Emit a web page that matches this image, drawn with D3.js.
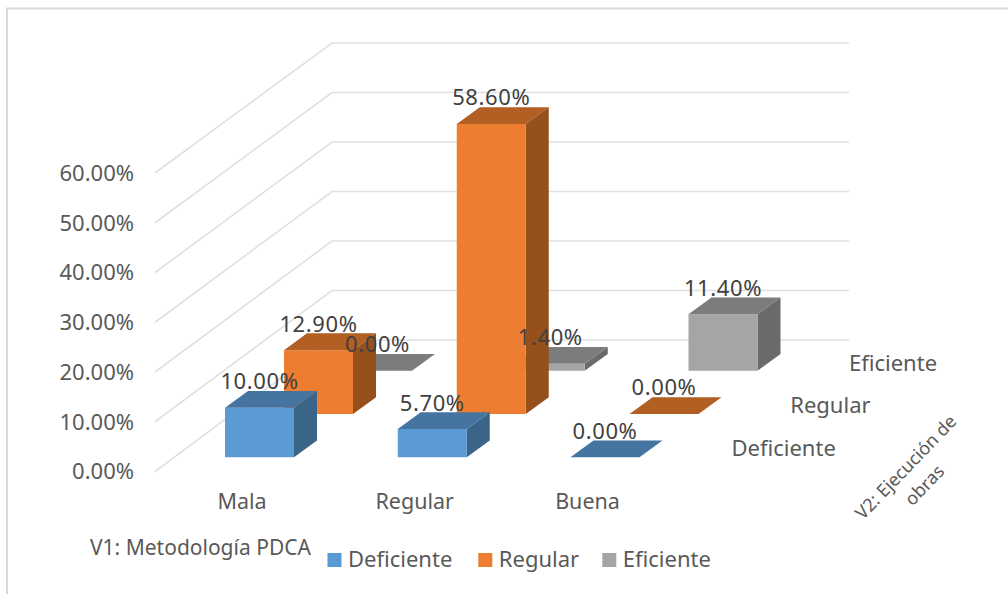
<!DOCTYPE html>
<html>
<head>
<meta charset="utf-8">
<script src="https://cdn.jsdelivr.net/npm/d3@7/dist/d3.min.js"></script>
<style>
html, body { margin: 0; padding: 0; background: #fff; }
svg { display: block; }
text { font-family: "Noto Sans", "Open Sans", sans-serif; }
</style>
</head>
<body>
<svg id="chart" width="1008" height="594"></svg>
<script>
const categories = ["Mala", "Regular", "Buena"];
const seriesNames = ["Deficiente", "Regular", "Eficiente"];
const deficiente = [10.0, 5.7, 0.0];
const regular = [12.9, 58.6, 0.0];
const eficiente = [0.0, 1.4, 11.4];
const seriesValues = [deficiente, regular, eficiente];
const yTicks = [0, 10, 20, 30, 40, 50, 60];
const faceColors = ["#5B9BD5", "#ED7D31", "#A5A5A5"];
const topColors = ["#44749F", "#B15F22", "#7C7C7C"];
const sideColors = ["#3A6588", "#95501C", "#6A6A6A"];

const svg = d3.select("#chart");

// Oblique projection: category runs along x, series runs into the page.
const xCat = d3.scalePoint().domain(categories).range([225, 570.5]);
const depth = d3.scalePoint().domain(d3.range(3)).range([0, 1]);
const height = d3.scaleLinear().domain([0, 60]).range([0, 297]);
const depthDx = 118, depthDy = -86.6;
const barW = 69, capDx = 23, capDy = -16.8;
const floorY = 457.3;

// Frame around the chart area
svg.append("path")
  .attr("d", "M7,594V8.5H1008")
  .attr("fill", "none").attr("stroke", "#d9d9d9").attr("stroke-width", 2);

// Gridlines on the side wall and back wall
const wallFront = 155, wallBack = 332, wallRight = 849;
const frontY = d3.scaleLinear().domain([0, 60]).range([471.5, 173]);
const backY = d3.scaleLinear().domain([0, 60]).range([340, 43]);
svg.append("g").selectAll("path").data(yTicks).join("path")
  .attr("d", t => d3.line()([[wallFront, frontY(t)], [wallBack, backY(t)], [wallRight, backY(t)]]))
  .attr("fill", "none").attr("stroke", "#e0e0e0").attr("stroke-width", 1.6);

// Bars, painted from the back row forward
const poly = pts => d3.line()(pts) + "Z";
const marks = svg.append("g");
d3.range(2, -1, -1).forEach(s => {
  const ox = depth(s) * depthDx, oy = depth(s) * depthDy;
  categories.forEach((c, i) => {
    const v = seriesValues[s][i];
    const x0 = xCat(c) + ox, x1 = x0 + barW;
    const yb = floorY + oy, yt = yb - height(v);
    const g = marks.append("g");
    g.append("path").attr("fill", sideColors[s])
      .attr("d", poly([[x1, yt], [x1 + capDx, yt + capDy], [x1 + capDx, yb + capDy], [x1, yb]]));
    g.append("path").attr("fill", faceColors[s])
      .attr("d", poly([[x0, yt], [x1, yt], [x1, yb], [x0, yb]]));
    g.append("path").attr("fill", topColors[s])
      .attr("d", poly([[x0, yt], [x1, yt], [x1 + capDx, yt + capDy], [x0 + capDx, yt + capDy]]));
  });
});

// Value labels, above the top of each bar
const valueLabels = svg.append("g");
seriesValues.forEach((vals, s) => {
  const ox = depth(s) * depthDx, oy = depth(s) * depthDy;
  vals.forEach((v, i) => {
    valueLabels.append("text")
      .attr("x", xCat(categories[i]) + ox + barW / 2)
      .attr("y", floorY + oy - height(v) - 26.5)
      .attr("dy", "0.36em").attr("text-anchor", "middle")
      .attr("font-size", 22).attr("letter-spacing", 0.6).attr("fill", "#404040")
      .text(d3.format(".2f")(v) + "%");
  });
});

// Value axis labels
svg.append("g").selectAll("text").data(yTicks).join("text")
  .attr("x", 134).attr("y", frontY).attr("dy", "0.36em")
  .attr("text-anchor", "end").attr("font-size", 22).attr("fill", "#595959")
  .text(t => d3.format(".2f")(t) + "%");

// Category labels
svg.append("g").selectAll("text").data(categories).join("text")
  .attr("x", c => xCat(c) + 17).attr("y", 501).attr("dy", "0.36em")
  .attr("text-anchor", "middle").attr("font-size", 21.5).attr("fill", "#595959")
  .text(c => c);

// Series depth labels
const seriesLabelX = d3.scalePoint().domain(seriesNames).range([731.5, 849]);
const seriesLabelY = d3.scalePoint().domain(seriesNames).range([448, 363]);
svg.append("g").selectAll("text").data(seriesNames).join("text")
  .attr("x", n => seriesLabelX(n)).attr("y", n => seriesLabelY(n)).attr("dy", "0.36em")
  .attr("font-size", 22).attr("fill", "#595959")
  .text(n => n);

// Axis titles
svg.append("text").attr("x", 90).attr("y", 547).attr("dy", "0.36em")
  .attr("font-size", 21).attr("fill", "#595959").text("V1: Metodología PDCA");
const v2 = svg.append("g").attr("transform", "translate(915,476) rotate(-46)")
  .attr("font-size", 18).attr("fill", "#595959").attr("text-anchor", "middle");
v2.append("text").attr("x", 0).attr("y", -13).attr("dy", "0.36em").text("V2: Ejecución de");
v2.append("text").attr("x", 0).attr("y", 13).attr("dy", "0.36em").text("obras");

// Legend
const legendX = [327.5, 478.3, 602.3];
const legend = svg.append("g").selectAll("g").data(seriesNames).join("g")
  .attr("transform", (n, i) => `translate(${legendX[i]},553)`);
legend.append("rect").attr("width", 14).attr("height", 14)
  .attr("fill", (n, i) => faceColors[i]);
legend.append("text").attr("x", 20.5).attr("y", 6.5).attr("dy", "0.36em")
  .attr("font-size", 22).attr("fill", "#595959").text(n => n);
</script>
</body>
</html>
